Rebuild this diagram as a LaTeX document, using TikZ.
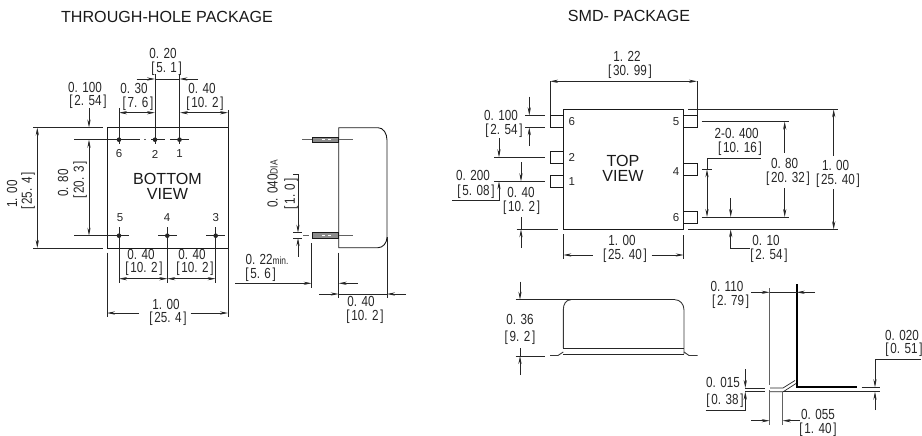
\documentclass[tikz,border=0pt]{standalone}
\usepackage{fontspec}
\usepackage{graphicx}
\setmainfont{Liberation Sans}
\usetikzlibrary{arrows.meta}
\newcommand{\cadtxt}[1]{\scalebox{.8}[1]{\fontsize{14.6}{15}\selectfont #1}}
\newcommand{\bk}[1]{[\kern2.2pt #1\kern2.2pt]}
\newcommand{\lb}[4]{\node[txtnode] (#1) at (#2,#3) {\cadtxt{#4}};}
\newcommand{\lbr}[4]{\node[txtnode,rotate=90] (#1) at (#2,#3) {\cadtxt{#4}};}
\newcommand{\pn}[4]{\node[pinnum] (#1) at (#2,#3) {#4};}
\tikzset{
  txtnode/.style={inner sep=0pt,outer sep=0pt,text=black!85,anchor=center},
  pinnum/.style={inner sep=0pt,text=black!85,font=\fontsize{11.5}{12}\selectfont},
  bigtxt/.style={inner sep=0pt,text=black!90,font=\fontsize{16.1}{16}\selectfont},
  ln/.style={draw=black!85,line width=.7pt},
  body/.style={draw=black!90,line width=.9pt},
  gl/.style={draw=black!62,line width=.9pt},
  sb/.style={draw=black!78,line width=.9pt},
  tip/.style={-{Stealth[length=8pt,width=3.2pt]}},
  tips/.style={{Stealth[length=8pt,width=3.2pt]}-{Stealth[length=8pt,width=3.2pt]}},
  pinhole/.style={circle,fill=black!85,inner sep=0pt,minimum size=4.6pt},
  thk/.style={draw=black,line width=1.7pt}
}
\begin{document}
\begin{tikzpicture}[x=1pt,y=-1pt]
\useasboundingbox (0,0) rectangle (922,436);
% titles
\node[bigtxt] (title1) at (167,17) {THROUGH-HOLE PACKAGE};
\node[bigtxt] (title2) at (629,15.5) {SMD- PACKAGE};
%%% BOTTOM VIEW
\draw[body] (107,127.5) rectangle (228,248);
\node[bigtxt] (bv1) at (167.5,179) {BOTTOM};
\node[bigtxt] (bv2) at (167.5,194) {VIEW};
\foreach \nm/\x/\y in {p6/119/139.7,p2/155/139.7,p1/179.5/139.7,p5/119/235.7,p4/167.3/235.7,p3/215.7/235.7}
  \node[pinhole] (\nm) at (\x,\y) {};
\pn{n6}{119}{154}{6}\pn{n2}{155}{154}{2}\pn{n1}{179.5}{154}{1}
\pn{n5}{120}{218}{5}\pn{n4}{167}{218}{4}\pn{n3}{215.7}{218}{3}
% centre lines
\draw[ln] (74,139.7) -- (140,139.7);
\draw[gl,line width=.6pt] (144,139.7) -- (146,139.7);
\draw[ln] (151,139.7) -- (165,139.7) (170,139.7) -- (189,139.7);
\draw[ln] (119,108) -- (119,143.5) (155,74) -- (155,143.5) (179.5,74) -- (179.5,143.5);
\draw[ln] (74,235.7) -- (129,235.7) (158,235.7) -- (177,235.7) (206,235.7) -- (225,235.7);
\draw[ln] (119,227) -- (119,283) (167.3,227) -- (167.3,283) (215.7,227) -- (215.7,283);
% dims top
\draw[ln,tip] (136.7,79) -- (155,79);
\draw[ln] (155,79) -- (179.5,79);
\draw[ln,tip] (198,79) -- (179.5,79);
\draw[ln,tips] (119,112.7) -- (155,112.7);
\draw[ln,tips] (180,112.7) -- (228,112.7);
\draw[ln] (228,110) -- (228,127.5);
\lb{a1}{163}{53}{0. 20}\lb{a2}{166.7}{69}{\bk{5. 1}}
\lb{a3}{85}{87}{0. 100}\lb{a4}{88}{102}{\bk{2. 54}}
\lb{a5}{134}{88}{0. 30}\lb{a6}{138}{104}{\bk{7. 6}}
\lb{a7}{202}{88}{0. 40}\lb{a8}{205}{104}{\bk{10. 2}}
% dims left
\draw[ln] (33,127.5) -- (102.7,127.5) (33,248) -- (102.7,248);
\draw[ln,tips] (37.3,127.5) -- (37.3,248);
\draw[ln,tip] (89,108) -- (89,127.5);
\draw[ln,tips] (89,139.7) -- (89,235.7);
\lbr{a9}{12}{194}{1. 00}\lbr{a10}{28}{191}{\bk{25. 4}}
\lbr{a12}{63}{183}{0. 80}\lbr{a13}{80}{180}{\bk{20. 3}}
% dims bottom
\draw[ln,tips] (119,278.7) -- (167.3,278.7);
\draw[ln,tips] (167.3,278.7) -- (215.7,278.7);
\draw[ln] (107,252.7) -- (107,317) (228,248) -- (228,317);
\draw[ln,tip] (139,313) -- (107,313);
\draw[ln,tip] (190.7,313) -- (228,313);
\lb{b1}{141}{254}{0. 40}\lb{b2}{144}{269}{\bk{10. 2}}
\lb{b3}{192}{254}{0. 40}\lb{b4}{195}{269}{\bk{10. 2}}
\lb{b5}{166}{304}{1. 00}\lb{b6}{168}{319}{\bk{25. 4}}
%%% SIDE VIEW
\draw[body] (338.7,127.7) -- (378,127.7) .. controls (383,127.7) and (387,133) .. (387,140) -- (387,237) .. controls (387,243) and (383,247.7) .. (378,247.7) -- (338.7,247.7) -- cycle;
\draw[gl,fill=black!45,draw=black!90,line width=.8pt] (312,137) rectangle (338.7,142);
\draw[gl,fill=black!45,draw=black!90,line width=.8pt] (312,232.7) rectangle (338.7,238);
\draw[white,line width=1.2pt] (322,139.5) -- (325,139.5) (328,139.5) -- (331,139.5) (322,235.3) -- (325,235.3) (328,235.3) -- (331,235.3);
\draw[gl] (302,139.7) -- (312,139.7) (338.7,139.7) -- (352.6,139.7) (338.7,235.4) -- (352.6,235.4);
\draw[ln] (293,232.7) -- (302,232.7) (293,238) -- (302,238);
\draw[gl,line width=.6pt] (303,235.4) -- (309,235.4);
\draw[ln] (293,174) -- (298,174);
\draw[ln,tip] (298,174) -- (298,232.7);
\draw[ln,tip] (298,256.7) -- (298,238);
\node[txtnode,rotate=90] (c1) at (272.7,184) {\cadtxt{0. 040{\fontsize{10.5}{11}\selectfont DIA}}};
\lbr{c2}{291}{194}{\bk{1. 0}}
\node[txtnode] (c3) at (267,259) {\cadtxt{0. 22{\fontsize{10.5}{11}\selectfont min.}}};
\lb{c4}{260.7}{275}{\bk{5. 6}}
\draw[ln,tip] (235,283.3) -- (311.7,283.3);
\draw[ln,tip] (357.7,283.3) -- (338.7,283.3);
\draw[ln] (311.7,243) -- (311.7,288) (338.7,252.7) -- (338.7,298) (387,237) -- (387,298);
\draw[ln,tip] (319,294) -- (338.7,294);
\draw[ln] (338.7,294) -- (387,294);
\draw[ln,tip] (406,294) -- (387,294);
\lb{c5}{361}{301.7}{0. 40}\lb{c6}{365}{317}{\bk{10. 2}}
%%% TOP VIEW
\draw[body] (563.3,109.3) rectangle (683.7,229.3);
\foreach \nm/\a/\b in {t6/115.3/127.3,t2/151.7/163.7,t1/175.7/187.7}
  \draw[body] (563.3,\a) -- (550,\a) -- (550,\b) -- (563.3,\b);
\foreach \nm/\a/\b in {t5/115.3/127.3,t4/163.7/175.7,t3/211.3/223.3}
  \draw[body] (683.7,\a) -- (697,\a) -- (697,\b) -- (683.7,\b);
\pn{m6}{571.7}{122}{6}\pn{m2}{571.7}{157.7}{2}\pn{m1}{571.7}{182}{1}
\pn{m5}{676}{121.7}{5}\pn{m4}{676}{171.7}{4}\pn{m3}{676}{217.7}{6}
\node[bigtxt] (tv1) at (623,160.7) {TOP};
\node[bigtxt] (tv2) at (623,176) {VIEW};
% 1.22
\draw[ln,line width=.9pt] (550,115) -- (550,81.3) (697,115) -- (697,81.3);
\draw[ln,tips] (550,81.3) -- (697,81.3);
\lb{d1}{627}{56.7}{1. 22}\lb{d2}{630}{72}{\bk{30. 99}}
% 0.100
\draw[ln] (525,115.3) -- (545.3,115.3) (525,127.3) -- (545.3,127.3);
\draw[ln,tip] (529.3,96.7) -- (529.3,115.3);
\draw[ln,tip] (529.3,146) -- (529.3,127.3);
\lb{d3}{501}{115}{0. 100}\lb{d4}{504}{131}{\bk{2. 54}}
% 0.200
\draw[ln] (494,157.3) -- (545,157.3) (494,181.3) -- (545,181.3);
\draw[ln,tip] (499,138.3) -- (499,157.3);
\draw[ln,tip] (452.3,200) -- (499,200) -- (499,181.3);
\lb{d5}{473}{175.7}{0. 200}\lb{d6}{476}{191.3}{\bk{5. 08}}
% 0.40
\draw[ln,tip] (521,162.3) -- (521,181.3);
\draw[ln] (516.7,229.3) -- (558.3,229.3) (521,217) -- (521,229.3);
\draw[ln,tip] (521,248) -- (521,229.3);
\lb{d7}{521}{192.3}{0. 40}\lb{d8}{521.7}{207.7}{\bk{10. 2}}
% 1.00 bottom
\draw[ln] (563.3,234.3) -- (563.3,259) (683.7,235) -- (683.7,259);
\draw[ln,tip] (592.7,255) -- (563.3,255);
\draw[ln,tip] (651.7,255) -- (683.7,255);
\lb{d9}{622}{240.7}{1. 00}\lb{d10}{625}{256}{\bk{25. 40}}
% right dims
\draw[ln] (688,109.3) -- (838,109.3) (688,229.3) -- (838,229.3);
\draw[ln,tip] (833.7,156) -- (833.7,109.3);
\draw[ln,tip] (833.7,189.3) -- (833.7,229.3);
\lb{d11}{835.7}{165}{1. 00}\lb{d12}{838}{180.7}{\bk{25. 40}}
\draw[ln] (701.7,121.7) -- (789,121.7) (701.7,217) -- (789,217);
\draw[ln,tip] (784.7,152.7) -- (784.7,121.7);
\draw[ln,tip] (784.7,188) -- (784.7,217);
\lb{d13}{784.7}{163.3}{0. 80}\lb{d14}{788}{178.7}{\bk{20. 32}}
\draw[ln] (760.7,158) -- (707,158) -- (707,169.3) (702,169.3) -- (712,169.3);
\draw[ln,tips] (707,169.3) -- (707,217);
\lb{d15}{736.7}{133.3}{2-0. 400}\lb{d16}{740}{149}{\bk{10. 16}}
\draw[ln,tip] (730.7,198.3) -- (730.7,217);
\draw[ln,tip] (750,248.7) -- (730.7,248.7) -- (730.7,229.3);
\lb{d17}{766}{240.3}{0. 10}\lb{d18}{769}{256}{\bk{2. 54}}
%%% SMALL SIDE VIEW
\draw[sb] (563.3,348) -- (563.3,310) .. controls (563.3,304) and (566,299.7) .. (571,299.7);
\draw[ln] (515.7,299.7) -- (675,299.7);
\draw[sb] (675,299.7) .. controls (680,299.7) and (684,304) .. (684,310) -- (684,354);
\draw[ln,line width=.9pt] (563.3,348.3) -- (684,348.3);
\draw[ln,line width=1.1pt] (563.3,354.3) -- (684,354.3);
\draw[sb] (563.3,352) -- (558,355.5) -- (550,355.5) (684,352) -- (689,355.5) -- (697.7,355.5);
\draw[ln] (515.7,356) -- (545,356);
\draw[ln,tip] (520,281.7) -- (520,299.7);
\draw[ln] (520,348) -- (520,356);
\draw[ln,tip] (520,375) -- (520,356);
\lb{e1}{520}{319.3}{0. 36}\lb{e2}{520}{338}{\bk{9. 2}}
%%% LEAD DETAIL
\draw[thk] (796.7,284) -- (796.7,386.7) -- (856.7,386.7);
\draw[ln] (745,388) -- (765,388) (745,391.7) -- (765,391.7);
\draw[ln] (770,388) -- (783,388) -- (795,380.5);
\draw[ln] (770,391.7) -- (783.3,391.7) -- (796,383.5);
\draw[ln] (783.3,391.7) -- (880,391.7);
\draw[ln] (861.7,387.3) -- (880,387.3);
\draw[gl] (769.7,288) -- (769.7,385) (769.7,390) -- (769.7,425);
\draw[gl,line width=.8pt] (782.7,391.7) -- (782.7,425);
\draw[ln,tip] (751,292.3) -- (769.7,292.3);
\draw[ln] (769.7,292.3) -- (796.7,292.3);
\draw[ln,tip] (815,292.3) -- (796.7,292.3);
\lb{f1}{727}{286}{0. 110}\lb{f2}{730.7}{301.7}{\bk{2. 79}}
\draw[ln,tip] (745.3,369.3) -- (745.3,388);
\draw[ln,tip] (705.7,410) -- (745.3,410) -- (745.3,391.7);
\lb{f3}{723}{382.3}{0. 015}\lb{f4}{725}{401}{\bk{0. 38}}
\draw[ln,tip] (751,420.7) -- (769.7,420.7);
\draw[ln,tip] (800,420.7) -- (782.7,420.7);
\lb{f5}{818}{414.3}{0. 055}\lb{f6}{818}{429.3}{\bk{1. 40}}
\draw[ln,tip] (921,359.3) -- (875,359.3) -- (875,387.3);
\draw[ln,tip] (875,410) -- (875,391.7);
\lb{f7}{902}{335}{0. 020}\lb{f8}{904}{350}{\bk{0. 51}}
\end{tikzpicture}
\end{document}
